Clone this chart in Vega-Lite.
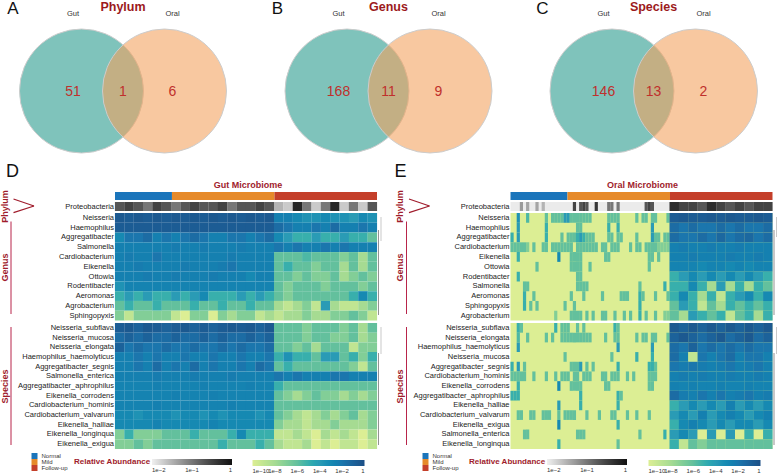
{"$schema":"https://vega.github.io/schema/vega-lite/v6.json","padding":0,"bounds":"flush","columns":2,"spacing":{"row":2,"column":133.5},
"config":{"view":{"stroke":null},"font":"Liberation Sans","range":{"heatmap":["#dcee94","#a6db92","#63c09d","#2a9bb5","#1b76ad","#1c4f86"]},"axisY":{"labelFont":"Liberation Sans","labelFontSize":7.5,"labelColor":"#222","ticks":false,"domain":false,"labelPadding":1.5,"titleFont":"Liberation Sans","titleFontSize":9,"titleFontWeight":"bold","titleColor":"#a01c2c","titleX":-106,"grid":false},"legend":{"labelOverlap":false,"labelFont":"Liberation Sans","labelFontSize":6,"labelColor":"#333"}},
"datasets":{
"venn":[{"panel":"A","set":"Gut","x":-33.5,"y":0},{"panel":"A","set":"Oral","x":49.5,"y":0},{"panel":"B","set":"Gut","x":232,"y":0},{"panel":"B","set":"Oral","x":315,"y":0},{"panel":"C","set":"Gut","x":101.5,"y":0},{"panel":"C","set":"Oral","x":185,"y":0}],
"groups":[{"g":"Normal","s":0,"e":20},{"g":"Mild","s":20,"e":56},{"g":"Follow-up","s":56,"e":92}],
"dP":[{"r":0,"c":0,"v":2e-1},{"r":0,"c":1,"v":3e-1},{"r":0,"c":2,"v":2e-1},{"r":0,"c":3,"v":1e-1},{"r":0,"c":4,"v":3e-1},{"r":0,"c":5,"v":2e-1},{"r":0,"c":6,"v":1e-1},{"r":0,"c":7,"v":2e-1},{"r":0,"c":8,"v":3e-1},{"r":0,"c":9,"v":2e-1},{"r":0,"c":10,"v":2e-1},{"r":0,"c":11,"v":3e-1},{"r":0,"c":12,"v":1e-1},{"r":0,"c":13,"v":2e-1},{"r":0,"c":14,"v":2e-1},{"r":0,"c":15,"v":3e-1},{"r":0,"c":16,"v":2e-1},{"r":0,"c":17,"v":3e-2},{"r":0,"c":18,"v":2e-2},{"r":0,"c":19,"v":6e-1},{"r":0,"c":20,"v":1e-1},{"r":0,"c":21,"v":2e-2},{"r":0,"c":22,"v":1e-1},{"r":0,"c":23,"v":6e-1},{"r":0,"c":24,"v":2e-2},{"r":0,"c":25,"v":1e-1},{"r":0,"c":26,"v":2e-2},{"r":0,"c":27,"v":2e-1}],
"dG":[{"r":0,"c":0,"v":3e-1},{"r":0,"c":1,"v":2e-1},{"r":0,"c":2,"v":3e-1},{"r":0,"c":3,"v":2e-1},{"r":0,"c":4,"v":3e-1},{"r":0,"c":5,"v":2e-1},{"r":0,"c":6,"v":3e-1},{"r":0,"c":7,"v":2e-1},{"r":0,"c":8,"v":3e-1},{"r":0,"c":9,"v":2e-1},{"r":0,"c":10,"v":3e-1},{"r":0,"c":11,"v":2e-1},{"r":0,"c":12,"v":3e-1},{"r":0,"c":13,"v":2e-1},{"r":0,"c":14,"v":3e-1},{"r":0,"c":15,"v":2e-1},{"r":0,"c":16,"v":3e-1},{"r":0,"c":17,"v":3e-3},{"r":0,"c":18,"v":3e-3},{"r":0,"c":19,"v":1e-3},{"r":0,"c":20,"v":3e-4},{"r":0,"c":21,"v":3e-4},{"r":0,"c":22,"v":1e-3},{"r":0,"c":23,"v":3e-4},{"r":0,"c":24,"v":3e-4},{"r":0,"c":25,"v":1e-4},{"r":0,"c":26,"v":1e-3},{"r":0,"c":27,"v":3e-4},
{"r":1,"c":0,"v":2e-1},{"r":1,"c":1,"v":2e-1},{"r":1,"c":2,"v":2e-1},{"r":1,"c":3,"v":2e-1},{"r":1,"c":4,"v":2e-1},{"r":1,"c":5,"v":2e-1},{"r":1,"c":6,"v":2e-1},{"r":1,"c":7,"v":2e-1},{"r":1,"c":8,"v":2e-1},{"r":1,"c":9,"v":2e-1},{"r":1,"c":10,"v":2e-1},{"r":1,"c":11,"v":2e-1},{"r":1,"c":12,"v":2e-1},{"r":1,"c":13,"v":2e-1},{"r":1,"c":14,"v":2e-1},{"r":1,"c":15,"v":2e-1},{"r":1,"c":16,"v":2e-1},{"r":1,"c":17,"v":3e-2},{"r":1,"c":18,"v":1e-2},{"r":1,"c":19,"v":3e-3},{"r":1,"c":20,"v":3e-3},{"r":1,"c":21,"v":1e-2},{"r":1,"c":22,"v":3e-3},{"r":1,"c":23,"v":3e-2},{"r":1,"c":24,"v":3e-3},{"r":1,"c":25,"v":3e-3},{"r":1,"c":26,"v":1e-2},{"r":1,"c":27,"v":3e-3},
{"r":2,"c":0,"v":1e-3},{"r":2,"c":1,"v":1e-2},{"r":2,"c":2,"v":1e-2},{"r":2,"c":3,"v":3e-2},{"r":2,"c":4,"v":3e-3},{"r":2,"c":5,"v":1e-2},{"r":2,"c":6,"v":3e-3},{"r":2,"c":7,"v":1e-2},{"r":2,"c":8,"v":3e-2},{"r":2,"c":9,"v":1e-2},{"r":2,"c":10,"v":3e-3},{"r":2,"c":11,"v":3e-3},{"r":2,"c":12,"v":1e-2},{"r":2,"c":13,"v":1e-2},{"r":2,"c":14,"v":3e-3},{"r":2,"c":15,"v":1e-2},{"r":2,"c":16,"v":3e-2},{"r":2,"c":17,"v":1e-3},{"r":2,"c":18,"v":1e-4},{"r":2,"c":19,"v":1e-5},{"r":2,"c":20,"v":1e-5},{"r":2,"c":21,"v":1e-4},{"r":2,"c":22,"v":1e-5},{"r":2,"c":23,"v":1e-5},{"r":2,"c":24,"v":1e-4},{"r":2,"c":25,"v":1e-5},{"r":2,"c":26,"v":1e-5},{"r":2,"c":27,"v":1e-6},
{"r":3,"c":0,"v":3e-3},{"r":3,"c":1,"v":3e-3},{"r":3,"c":2,"v":3e-3},{"r":3,"c":3,"v":3e-3},{"r":3,"c":4,"v":3e-3},{"r":3,"c":5,"v":3e-3},{"r":3,"c":6,"v":5e-3},{"r":3,"c":7,"v":3e-3},{"r":3,"c":8,"v":3e-3},{"r":3,"c":9,"v":5e-3},{"r":3,"c":10,"v":3e-3},{"r":3,"c":11,"v":3e-3},{"r":3,"c":12,"v":3e-3},{"r":3,"c":13,"v":5e-3},{"r":3,"c":14,"v":3e-3},{"r":3,"c":15,"v":3e-3},{"r":3,"c":16,"v":3e-3},{"r":3,"c":17,"v":1e-2},{"r":3,"c":18,"v":3e-3},{"r":3,"c":19,"v":1e-2},{"r":3,"c":20,"v":3e-3},{"r":3,"c":21,"v":3e-3},{"r":3,"c":22,"v":1e-2},{"r":3,"c":23,"v":3e-3},{"r":3,"c":24,"v":1e-2},{"r":3,"c":25,"v":3e-3},{"r":3,"c":26,"v":3e-3},{"r":3,"c":27,"v":3e-3},
{"r":4,"c":0,"v":3e-3},{"r":4,"c":1,"v":5e-3},{"r":4,"c":2,"v":3e-3},{"r":4,"c":3,"v":3e-3},{"r":4,"c":4,"v":1e-2},{"r":4,"c":5,"v":3e-3},{"r":4,"c":6,"v":3e-3},{"r":4,"c":7,"v":3e-3},{"r":4,"c":8,"v":3e-3},{"r":4,"c":9,"v":3e-3},{"r":4,"c":10,"v":3e-3},{"r":4,"c":11,"v":3e-3},{"r":4,"c":12,"v":5e-3},{"r":4,"c":13,"v":3e-3},{"r":4,"c":14,"v":3e-3},{"r":4,"c":15,"v":3e-3},{"r":4,"c":16,"v":3e-3},{"r":4,"c":17,"v":1e-6},{"r":4,"c":18,"v":1e-6},{"r":4,"c":19,"v":1e-6},{"r":4,"c":20,"v":3e-6},{"r":4,"c":21,"v":1e-6},{"r":4,"c":22,"v":1e-6},{"r":4,"c":23,"v":1e-6},{"r":4,"c":24,"v":1e-7},{"r":4,"c":25,"v":1e-6},{"r":4,"c":26,"v":1e-8},{"r":4,"c":27,"v":1e-6},
{"r":5,"c":0,"v":3e-3},{"r":5,"c":1,"v":3e-3},{"r":5,"c":2,"v":5e-3},{"r":5,"c":3,"v":3e-3},{"r":5,"c":4,"v":3e-3},{"r":5,"c":5,"v":3e-3},{"r":5,"c":6,"v":3e-3},{"r":5,"c":7,"v":5e-3},{"r":5,"c":8,"v":3e-3},{"r":5,"c":9,"v":3e-3},{"r":5,"c":10,"v":3e-3},{"r":5,"c":11,"v":5e-3},{"r":5,"c":12,"v":1e-2},{"r":5,"c":13,"v":3e-3},{"r":5,"c":14,"v":3e-3},{"r":5,"c":15,"v":3e-3},{"r":5,"c":16,"v":3e-3},{"r":5,"c":17,"v":1e-6},{"r":5,"c":18,"v":1e-5},{"r":5,"c":19,"v":1e-6},{"r":5,"c":20,"v":1e-6},{"r":5,"c":21,"v":1e-7},{"r":5,"c":22,"v":1e-6},{"r":5,"c":23,"v":1e-6},{"r":5,"c":24,"v":1e-8},{"r":5,"c":25,"v":1e-6},{"r":5,"c":26,"v":1e-8},{"r":5,"c":27,"v":1e-6},
{"r":6,"c":0,"v":3e-3},{"r":6,"c":1,"v":3e-3},{"r":6,"c":2,"v":3e-3},{"r":6,"c":3,"v":5e-3},{"r":6,"c":4,"v":3e-3},{"r":6,"c":5,"v":3e-3},{"r":6,"c":6,"v":5e-3},{"r":6,"c":7,"v":3e-3},{"r":6,"c":8,"v":3e-3},{"r":6,"c":9,"v":3e-3},{"r":6,"c":10,"v":5e-3},{"r":6,"c":11,"v":3e-3},{"r":6,"c":12,"v":3e-3},{"r":6,"c":13,"v":3e-3},{"r":6,"c":14,"v":1e-3},{"r":6,"c":15,"v":3e-3},{"r":6,"c":16,"v":3e-3},{"r":6,"c":17,"v":1e-6},{"r":6,"c":18,"v":1e-6},{"r":6,"c":19,"v":1e-7},{"r":6,"c":20,"v":1e-6},{"r":6,"c":21,"v":1e-7},{"r":6,"c":22,"v":1e-7},{"r":6,"c":23,"v":1e-6},{"r":6,"c":24,"v":1e-8},{"r":6,"c":25,"v":1e-7},{"r":6,"c":26,"v":1e-6},{"r":6,"c":27,"v":1e-7},
{"r":7,"c":0,"v":3e-4},{"r":7,"c":1,"v":2e-3},{"r":7,"c":2,"v":2e-3},{"r":7,"c":3,"v":2e-3},{"r":7,"c":4,"v":2e-3},{"r":7,"c":5,"v":2e-3},{"r":7,"c":6,"v":2e-3},{"r":7,"c":7,"v":2e-3},{"r":7,"c":8,"v":2e-3},{"r":7,"c":9,"v":2e-3},{"r":7,"c":10,"v":2e-3},{"r":7,"c":11,"v":2e-3},{"r":7,"c":12,"v":2e-3},{"r":7,"c":13,"v":2e-3},{"r":7,"c":14,"v":2e-3},{"r":7,"c":15,"v":2e-3},{"r":7,"c":16,"v":2e-3},{"r":7,"c":17,"v":1e-6},{"r":7,"c":18,"v":1e-7},{"r":7,"c":19,"v":1e-6},{"r":7,"c":20,"v":1e-6},{"r":7,"c":21,"v":1e-6},{"r":7,"c":22,"v":1e-7},{"r":7,"c":23,"v":1e-6},{"r":7,"c":24,"v":1e-6},{"r":7,"c":25,"v":1e-6},{"r":7,"c":26,"v":1e-7},{"r":7,"c":27,"v":1e-6},
{"r":8,"c":0,"v":1e-5},{"r":8,"c":1,"v":1e-4},{"r":8,"c":2,"v":1e-5},{"r":8,"c":3,"v":1e-4},{"r":8,"c":4,"v":1e-5},{"r":8,"c":5,"v":1e-5},{"r":8,"c":6,"v":1e-4},{"r":8,"c":7,"v":1e-5},{"r":8,"c":8,"v":1e-4},{"r":8,"c":9,"v":1e-3},{"r":8,"c":10,"v":1e-5},{"r":8,"c":11,"v":1e-5},{"r":8,"c":12,"v":1e-5},{"r":8,"c":13,"v":1e-4},{"r":8,"c":14,"v":1e-5},{"r":8,"c":15,"v":1e-4},{"r":8,"c":16,"v":1e-5},{"r":8,"c":17,"v":1e-6},{"r":8,"c":18,"v":1e-7},{"r":8,"c":19,"v":1e-6},{"r":8,"c":20,"v":1e-6},{"r":8,"c":21,"v":1e-6},{"r":8,"c":22,"v":1e-6},{"r":8,"c":23,"v":1e-6},{"r":8,"c":24,"v":1e-6},{"r":8,"c":25,"v":1e-5},{"r":8,"c":26,"v":1e-3},{"r":8,"c":27,"v":1e-5},
{"r":9,"c":0,"v":1e-6},{"r":9,"c":1,"v":1e-5},{"r":9,"c":2,"v":1e-6},{"r":9,"c":3,"v":1e-6},{"r":9,"c":4,"v":1e-5},{"r":9,"c":5,"v":1e-6},{"r":9,"c":6,"v":1e-6},{"r":9,"c":7,"v":1e-6},{"r":9,"c":8,"v":1e-5},{"r":9,"c":9,"v":1e-6},{"r":9,"c":10,"v":1e-6},{"r":9,"c":11,"v":1e-5},{"r":9,"c":12,"v":1e-6},{"r":9,"c":13,"v":1e-6},{"r":9,"c":14,"v":1e-5},{"r":9,"c":15,"v":1e-6},{"r":9,"c":16,"v":1e-6},{"r":9,"c":17,"v":1e-8},{"r":9,"c":18,"v":1e-9},{"r":9,"c":19,"v":1e-8},{"r":9,"c":20,"v":1e-7},{"r":9,"c":21,"v":1e-9},{"r":9,"c":22,"v":1e-4},{"r":9,"c":23,"v":1e-8},{"r":9,"c":24,"v":1e-9},{"r":9,"c":25,"v":1e-9},{"r":9,"c":26,"v":1e-8},{"r":9,"c":27,"v":1e-7},
{"r":10,"c":0,"v":1e-7},{"r":10,"c":1,"v":1e-9},{"r":10,"c":2,"v":1e-7},{"r":10,"c":3,"v":1e-7},{"r":10,"c":4,"v":1e-7},{"r":10,"c":5,"v":1e-7},{"r":10,"c":6,"v":1e-9},{"r":10,"c":7,"v":1e-10},{"r":10,"c":8,"v":1e-7},{"r":10,"c":9,"v":1e-7},{"r":10,"c":10,"v":1e-10},{"r":10,"c":11,"v":1e-7},{"r":10,"c":12,"v":1e-8},{"r":10,"c":13,"v":1e-7},{"r":10,"c":14,"v":1e-7},{"r":10,"c":15,"v":1e-9},{"r":10,"c":16,"v":1e-8},{"r":10,"c":17,"v":1e-9},{"r":10,"c":18,"v":1e-8},{"r":10,"c":19,"v":1e-8},{"r":10,"c":20,"v":1e-7},{"r":10,"c":21,"v":1e-8},{"r":10,"c":22,"v":1e-8},{"r":10,"c":23,"v":1e-7},{"r":10,"c":24,"v":1e-7},{"r":10,"c":25,"v":1e-6},{"r":10,"c":26,"v":1e-7},{"r":10,"c":27,"v":1e-9}],
"dS":[{"r":0,"c":0,"v":2e-1},{"r":0,"c":1,"v":3e-1},{"r":0,"c":2,"v":1e-1},{"r":0,"c":3,"v":3e-1},{"r":0,"c":4,"v":2e-1},{"r":0,"c":5,"v":1e-1},{"r":0,"c":6,"v":2e-1},{"r":0,"c":7,"v":3e-1},{"r":0,"c":8,"v":1e-1},{"r":0,"c":9,"v":2e-1},{"r":0,"c":10,"v":1e-1},{"r":0,"c":11,"v":2e-1},{"r":0,"c":12,"v":3e-1},{"r":0,"c":13,"v":2e-1},{"r":0,"c":14,"v":3e-1},{"r":0,"c":15,"v":1e-1},{"r":0,"c":16,"v":3e-1},{"r":0,"c":17,"v":1e-6},{"r":0,"c":18,"v":1e-6},{"r":0,"c":19,"v":1e-6},{"r":0,"c":20,"v":1e-7},{"r":0,"c":21,"v":1e-6},{"r":0,"c":22,"v":1e-6},{"r":0,"c":23,"v":1e-6},{"r":0,"c":24,"v":1e-7},{"r":0,"c":25,"v":1e-6},{"r":0,"c":26,"v":1e-8},{"r":0,"c":27,"v":1e-6},
{"r":1,"c":0,"v":3e-2},{"r":1,"c":1,"v":1e-1},{"r":1,"c":2,"v":3e-2},{"r":1,"c":3,"v":1e-1},{"r":1,"c":4,"v":3e-2},{"r":1,"c":5,"v":3e-2},{"r":1,"c":6,"v":1e-1},{"r":1,"c":7,"v":3e-2},{"r":1,"c":8,"v":3e-2},{"r":1,"c":9,"v":1e-1},{"r":1,"c":10,"v":3e-2},{"r":1,"c":11,"v":1e-1},{"r":1,"c":12,"v":3e-2},{"r":1,"c":13,"v":3e-2},{"r":1,"c":14,"v":1e-1},{"r":1,"c":15,"v":3e-2},{"r":1,"c":16,"v":1e-1},{"r":1,"c":17,"v":1e-6},{"r":1,"c":18,"v":1e-6},{"r":1,"c":19,"v":1e-6},{"r":1,"c":20,"v":1e-7},{"r":1,"c":21,"v":1e-6},{"r":1,"c":22,"v":1e-6},{"r":1,"c":23,"v":1e-7},{"r":1,"c":24,"v":1e-7},{"r":1,"c":25,"v":1e-6},{"r":1,"c":26,"v":1e-8},{"r":1,"c":27,"v":1e-7},
{"r":2,"c":0,"v":1e-1},{"r":2,"c":1,"v":1e-2},{"r":2,"c":2,"v":3e-2},{"r":2,"c":3,"v":1e-2},{"r":2,"c":4,"v":1e-2},{"r":2,"c":5,"v":3e-2},{"r":2,"c":6,"v":1e-2},{"r":2,"c":7,"v":1e-2},{"r":2,"c":8,"v":3e-2},{"r":2,"c":9,"v":1e-2},{"r":2,"c":10,"v":1e-2},{"r":2,"c":11,"v":3e-2},{"r":2,"c":12,"v":1e-2},{"r":2,"c":13,"v":3e-2},{"r":2,"c":14,"v":1e-2},{"r":2,"c":15,"v":1e-2},{"r":2,"c":16,"v":3e-2},{"r":2,"c":17,"v":1e-6},{"r":2,"c":18,"v":1e-6},{"r":2,"c":19,"v":1e-7},{"r":2,"c":20,"v":1e-6},{"r":2,"c":21,"v":1e-8},{"r":2,"c":22,"v":1e-6},{"r":2,"c":23,"v":1e-6},{"r":2,"c":24,"v":1e-6},{"r":2,"c":25,"v":1e-9},{"r":2,"c":26,"v":1e-7},{"r":2,"c":27,"v":1e-7},
{"r":3,"c":0,"v":3e-3},{"r":3,"c":1,"v":3e-3},{"r":3,"c":2,"v":1e-2},{"r":3,"c":3,"v":3e-3},{"r":3,"c":4,"v":1e-2},{"r":3,"c":5,"v":3e-3},{"r":3,"c":6,"v":3e-3},{"r":3,"c":7,"v":1e-2},{"r":3,"c":8,"v":3e-3},{"r":3,"c":9,"v":3e-3},{"r":3,"c":10,"v":1e-2},{"r":3,"c":11,"v":3e-3},{"r":3,"c":12,"v":3e-3},{"r":3,"c":13,"v":1e-2},{"r":3,"c":14,"v":3e-3},{"r":3,"c":15,"v":3e-3},{"r":3,"c":16,"v":1e-2},{"r":3,"c":17,"v":1e-5},{"r":3,"c":18,"v":3e-4},{"r":3,"c":19,"v":1e-5},{"r":3,"c":20,"v":1e-5},{"r":3,"c":21,"v":1e-6},{"r":3,"c":22,"v":1e-4},{"r":3,"c":23,"v":1e-4},{"r":3,"c":24,"v":1e-6},{"r":3,"c":25,"v":1e-5},{"r":3,"c":26,"v":1e-7},{"r":3,"c":27,"v":1e-5},
{"r":4,"c":0,"v":3e-3},{"r":4,"c":1,"v":3e-3},{"r":4,"c":2,"v":1e-2},{"r":4,"c":3,"v":3e-3},{"r":4,"c":4,"v":3e-2},{"r":4,"c":5,"v":3e-3},{"r":4,"c":6,"v":1e-2},{"r":4,"c":7,"v":3e-3},{"r":4,"c":8,"v":3e-2},{"r":4,"c":9,"v":3e-3},{"r":4,"c":10,"v":1e-2},{"r":4,"c":11,"v":3e-3},{"r":4,"c":12,"v":3e-3},{"r":4,"c":13,"v":1e-2},{"r":4,"c":14,"v":3e-3},{"r":4,"c":15,"v":3e-2},{"r":4,"c":16,"v":1e-2},{"r":4,"c":17,"v":1e-6},{"r":4,"c":18,"v":1e-5},{"r":4,"c":19,"v":1e-6},{"r":4,"c":20,"v":1e-6},{"r":4,"c":21,"v":1e-6},{"r":4,"c":22,"v":1e-6},{"r":4,"c":23,"v":1e-6},{"r":4,"c":24,"v":1e-6},{"r":4,"c":25,"v":1e-7},{"r":4,"c":26,"v":1e-9},{"r":4,"c":27,"v":1e-6},
{"r":5,"c":0,"v":3e-3},{"r":5,"c":1,"v":3e-3},{"r":5,"c":2,"v":3e-3},{"r":5,"c":3,"v":3e-3},{"r":5,"c":4,"v":5e-3},{"r":5,"c":5,"v":3e-3},{"r":5,"c":6,"v":3e-3},{"r":5,"c":7,"v":3e-3},{"r":5,"c":8,"v":5e-3},{"r":5,"c":9,"v":3e-3},{"r":5,"c":10,"v":3e-3},{"r":5,"c":11,"v":3e-3},{"r":5,"c":12,"v":5e-3},{"r":5,"c":13,"v":3e-3},{"r":5,"c":14,"v":3e-3},{"r":5,"c":15,"v":3e-3},{"r":5,"c":16,"v":3e-3},{"r":5,"c":17,"v":1e-2},{"r":5,"c":18,"v":3e-3},{"r":5,"c":19,"v":1e-2},{"r":5,"c":20,"v":3e-3},{"r":5,"c":21,"v":3e-3},{"r":5,"c":22,"v":3e-3},{"r":5,"c":23,"v":1e-2},{"r":5,"c":24,"v":1e-2},{"r":5,"c":25,"v":3e-3},{"r":5,"c":26,"v":3e-3},{"r":5,"c":27,"v":3e-3},
{"r":6,"c":0,"v":2e-3},{"r":6,"c":1,"v":2e-3},{"r":6,"c":2,"v":2e-3},{"r":6,"c":3,"v":2e-3},{"r":6,"c":4,"v":3e-3},{"r":6,"c":5,"v":2e-3},{"r":6,"c":6,"v":2e-3},{"r":6,"c":7,"v":2e-3},{"r":6,"c":8,"v":2e-3},{"r":6,"c":9,"v":3e-3},{"r":6,"c":10,"v":2e-3},{"r":6,"c":11,"v":2e-3},{"r":6,"c":12,"v":2e-3},{"r":6,"c":13,"v":2e-3},{"r":6,"c":14,"v":3e-3},{"r":6,"c":15,"v":2e-3},{"r":6,"c":16,"v":2e-3},{"r":6,"c":17,"v":1e-5},{"r":6,"c":18,"v":1e-6},{"r":6,"c":19,"v":1e-6},{"r":6,"c":20,"v":1e-6},{"r":6,"c":21,"v":1e-6},{"r":6,"c":22,"v":1e-6},{"r":6,"c":23,"v":1e-6},{"r":6,"c":24,"v":1e-6},{"r":6,"c":25,"v":1e-6},{"r":6,"c":26,"v":1e-6},{"r":6,"c":27,"v":1e-6},
{"r":7,"c":0,"v":2e-3},{"r":7,"c":1,"v":2e-3},{"r":7,"c":2,"v":2e-3},{"r":7,"c":3,"v":2e-3},{"r":7,"c":4,"v":2e-3},{"r":7,"c":5,"v":2e-3},{"r":7,"c":6,"v":3e-3},{"r":7,"c":7,"v":2e-3},{"r":7,"c":8,"v":2e-3},{"r":7,"c":9,"v":2e-3},{"r":7,"c":10,"v":3e-3},{"r":7,"c":11,"v":2e-3},{"r":7,"c":12,"v":2e-3},{"r":7,"c":13,"v":2e-3},{"r":7,"c":14,"v":2e-3},{"r":7,"c":15,"v":2e-3},{"r":7,"c":16,"v":2e-3},{"r":7,"c":17,"v":1e-6},{"r":7,"c":18,"v":1e-7},{"r":7,"c":19,"v":1e-8},{"r":7,"c":20,"v":1e-7},{"r":7,"c":21,"v":1e-6},{"r":7,"c":22,"v":1e-7},{"r":7,"c":23,"v":1e-7},{"r":7,"c":24,"v":1e-8},{"r":7,"c":25,"v":1e-7},{"r":7,"c":26,"v":1e-8},{"r":7,"c":27,"v":1e-7},
{"r":8,"c":0,"v":2e-3},{"r":8,"c":1,"v":2e-3},{"r":8,"c":2,"v":2e-3},{"r":8,"c":3,"v":2e-3},{"r":8,"c":4,"v":3e-3},{"r":8,"c":5,"v":2e-3},{"r":8,"c":6,"v":2e-3},{"r":8,"c":7,"v":2e-3},{"r":8,"c":8,"v":2e-3},{"r":8,"c":9,"v":2e-3},{"r":8,"c":10,"v":2e-3},{"r":8,"c":11,"v":2e-3},{"r":8,"c":12,"v":3e-3},{"r":8,"c":13,"v":2e-3},{"r":8,"c":14,"v":2e-3},{"r":8,"c":15,"v":2e-3},{"r":8,"c":16,"v":2e-3},{"r":8,"c":17,"v":1e-6},{"r":8,"c":18,"v":1e-6},{"r":8,"c":19,"v":1e-6},{"r":8,"c":20,"v":1e-6},{"r":8,"c":21,"v":1e-6},{"r":8,"c":22,"v":1e-6},{"r":8,"c":23,"v":1e-6},{"r":8,"c":24,"v":1e-6},{"r":8,"c":25,"v":1e-6},{"r":8,"c":26,"v":1e-6},{"r":8,"c":27,"v":1e-6},
{"r":9,"c":0,"v":1e-3},{"r":9,"c":1,"v":1e-3},{"r":9,"c":2,"v":3e-4},{"r":9,"c":3,"v":1e-3},{"r":9,"c":4,"v":1e-3},{"r":9,"c":5,"v":1e-3},{"r":9,"c":6,"v":3e-4},{"r":9,"c":7,"v":1e-3},{"r":9,"c":8,"v":1e-3},{"r":9,"c":9,"v":3e-4},{"r":9,"c":10,"v":1e-3},{"r":9,"c":11,"v":3e-4},{"r":9,"c":12,"v":1e-3},{"r":9,"c":13,"v":1e-3},{"r":9,"c":14,"v":1e-3},{"r":9,"c":15,"v":3e-4},{"r":9,"c":16,"v":1e-3},{"r":9,"c":17,"v":1e-6},{"r":9,"c":18,"v":1e-7},{"r":9,"c":19,"v":1e-8},{"r":9,"c":20,"v":1e-9},{"r":9,"c":21,"v":1e-8},{"r":9,"c":22,"v":1e-7},{"r":9,"c":23,"v":1e-8},{"r":9,"c":24,"v":1e-7},{"r":9,"c":25,"v":1e-6},{"r":9,"c":26,"v":1e-8},{"r":9,"c":27,"v":1e-7},
{"r":10,"c":0,"v":1e-3},{"r":10,"c":1,"v":1e-3},{"r":10,"c":2,"v":1e-3},{"r":10,"c":3,"v":1e-3},{"r":10,"c":4,"v":2e-3},{"r":10,"c":5,"v":1e-3},{"r":10,"c":6,"v":1e-3},{"r":10,"c":7,"v":1e-3},{"r":10,"c":8,"v":1e-3},{"r":10,"c":9,"v":1e-3},{"r":10,"c":10,"v":2e-3},{"r":10,"c":11,"v":1e-3},{"r":10,"c":12,"v":1e-3},{"r":10,"c":13,"v":1e-3},{"r":10,"c":14,"v":1e-3},{"r":10,"c":15,"v":1e-3},{"r":10,"c":16,"v":1e-3},{"r":10,"c":17,"v":1e-7},{"r":10,"c":18,"v":1e-8},{"r":10,"c":19,"v":1e-8},{"r":10,"c":20,"v":1e-9},{"r":10,"c":21,"v":1e-8},{"r":10,"c":22,"v":1e-8},{"r":10,"c":23,"v":1e-7},{"r":10,"c":24,"v":1e-8},{"r":10,"c":25,"v":1e-8},{"r":10,"c":26,"v":1e-8},{"r":10,"c":27,"v":1e-7},
{"r":11,"c":0,"v":1e-7},{"r":11,"c":1,"v":1e-5},{"r":11,"c":2,"v":1e-7},{"r":11,"c":3,"v":1e-7},{"r":11,"c":4,"v":1e-7},{"r":11,"c":5,"v":1e-6},{"r":11,"c":6,"v":1e-6},{"r":11,"c":7,"v":1e-6},{"r":11,"c":8,"v":1e-5},{"r":11,"c":9,"v":1e-6},{"r":11,"c":10,"v":1e-6},{"r":11,"c":11,"v":1e-6},{"r":11,"c":12,"v":1e-5},{"r":11,"c":13,"v":1e-3},{"r":11,"c":14,"v":1e-5},{"r":11,"c":15,"v":1e-5},{"r":11,"c":16,"v":1e-5},{"r":11,"c":17,"v":1e-9},{"r":11,"c":18,"v":1e-9},{"r":11,"c":19,"v":1e-8},{"r":11,"c":20,"v":1e-9},{"r":11,"c":21,"v":1e-10},{"r":11,"c":22,"v":1e-8},{"r":11,"c":23,"v":1e-9},{"r":11,"c":24,"v":1e-8},{"r":11,"c":25,"v":1e-9},{"r":11,"c":26,"v":1e-10},{"r":11,"c":27,"v":1e-8},
{"r":12,"c":0,"v":1e-7},{"r":12,"c":1,"v":1e-7},{"r":12,"c":2,"v":1e-6},{"r":12,"c":3,"v":1e-7},{"r":12,"c":4,"v":1e-6},{"r":12,"c":5,"v":1e-6},{"r":12,"c":6,"v":1e-6},{"r":12,"c":7,"v":1e-6},{"r":12,"c":8,"v":1e-6},{"r":12,"c":9,"v":1e-6},{"r":12,"c":10,"v":1e-6},{"r":12,"c":11,"v":1e-5},{"r":12,"c":12,"v":1e-6},{"r":12,"c":13,"v":1e-6},{"r":12,"c":14,"v":1e-6},{"r":12,"c":15,"v":1e-5},{"r":12,"c":16,"v":1e-6},{"r":12,"c":17,"v":1e-8},{"r":12,"c":18,"v":1e-9},{"r":12,"c":19,"v":1e-9},{"r":12,"c":20,"v":1e-8},{"r":12,"c":21,"v":1e-10},{"r":12,"c":22,"v":1e-9},{"r":12,"c":23,"v":1e-10},{"r":12,"c":24,"v":1e-9},{"r":12,"c":25,"v":1e-9},{"r":12,"c":26,"v":1e-10},{"r":12,"c":27,"v":1e-9}],
"eP":[{"r":0,"c":3,"v":5e-2},{"r":0,"c":5,"v":4e-2},{"r":0,"c":8,"v":4e-2},{"r":0,"c":10,"v":3e-2},{"r":0,"c":20,"v":3e-1},{"r":0,"c":22,"v":2e-1},{"r":0,"c":23,"v":3e-1},{"r":0,"c":24,"v":2e-1},{"r":0,"c":27,"v":4e-1},{"r":0,"c":31,"v":1e-1},{"r":0,"c":32,"v":1e-1},{"r":0,"c":34,"v":1e-1},{"r":0,"c":43,"v":2e-1},{"r":0,"c":44,"v":3e-1},{"r":0,"c":45,"v":2e-1},{"r":0,"c":52,"v":5e-1},{"r":0,"c":55,"v":3e-1},{"r":0,"c":58,"v":3e-1},{"r":0,"c":61,"v":2e-1},{"r":0,"c":64,"v":5e-1},{"r":0,"c":67,"v":3e-1},{"r":0,"c":70,"v":2e-1},{"r":0,"c":73,"v":3e-1},{"r":0,"c":76,"v":2e-1},{"r":0,"c":79,"v":3e-1},{"r":0,"c":82,"v":3e-1}],
"eG":[{"r":0,"c":2,"v":3e-4},{"r":0,"c":5,"v":3e-6},{"r":0,"c":11,"v":1e-6},{"r":0,"c":13,"v":1e-6},{"r":0,"c":14,"v":1e-6},{"r":0,"c":15,"v":1e-6},{"r":0,"c":16,"v":1e-6},{"r":0,"c":17,"v":1e-4},{"r":0,"c":18,"v":1e-4},{"r":0,"c":19,"v":1e-6},{"r":0,"c":20,"v":1e-6},{"r":0,"c":21,"v":1e-6},{"r":0,"c":22,"v":1e-6},{"r":0,"c":23,"v":1e-6},{"r":0,"c":24,"v":1e-6},{"r":0,"c":25,"v":1e-6},{"r":0,"c":31,"v":1e-6},{"r":0,"c":32,"v":1e-6},{"r":0,"c":33,"v":1e-6},{"r":0,"c":34,"v":1e-6},{"r":0,"c":40,"v":1e-6},{"r":0,"c":42,"v":1e-6},{"r":0,"c":43,"v":1e-6},{"r":0,"c":45,"v":1e-6},{"r":0,"c":46,"v":1e-6},{"r":0,"c":50,"v":1e-6},
{"r":1,"c":2,"v":1e-4},{"r":1,"c":11,"v":1e-5},{"r":1,"c":21,"v":1e-6},{"r":1,"c":22,"v":1e-6},{"r":1,"c":31,"v":1e-5},{"r":1,"c":34,"v":1e-5},{"r":1,"c":45,"v":1e-4},
{"r":2,"c":0,"v":1e-5},{"r":2,"c":2,"v":1e-4},{"r":2,"c":11,"v":1e-5},{"r":2,"c":16,"v":1e-6},{"r":2,"c":18,"v":1e-6},{"r":2,"c":19,"v":1e-6},{"r":2,"c":20,"v":1e-6},{"r":2,"c":21,"v":1e-5},{"r":2,"c":22,"v":1e-4},{"r":2,"c":23,"v":1e-5},{"r":2,"c":24,"v":1e-6},{"r":2,"c":25,"v":1e-6},{"r":2,"c":26,"v":1e-6},{"r":2,"c":31,"v":1e-6},{"r":2,"c":32,"v":1e-6},{"r":2,"c":34,"v":1e-6},{"r":2,"c":35,"v":1e-6},{"r":2,"c":40,"v":1e-6},{"r":2,"c":45,"v":1e-4},{"r":2,"c":46,"v":1e-6},{"r":2,"c":47,"v":1e-6},{"r":2,"c":49,"v":1e-6},{"r":2,"c":50,"v":1e-6},
{"r":3,"c":0,"v":1e-6},{"r":3,"c":1,"v":1e-6},{"r":3,"c":2,"v":1e-6},{"r":3,"c":3,"v":1e-6},{"r":3,"c":4,"v":1e-6},{"r":3,"c":5,"v":1e-7},{"r":3,"c":7,"v":1e-6},{"r":3,"c":10,"v":1e-6},{"r":3,"c":11,"v":1e-6},{"r":3,"c":13,"v":1e-6},{"r":3,"c":14,"v":1e-6},{"r":3,"c":15,"v":1e-6},{"r":3,"c":16,"v":1e-6},{"r":3,"c":17,"v":1e-6},{"r":3,"c":18,"v":1e-6},{"r":3,"c":19,"v":1e-6},{"r":3,"c":21,"v":1e-6},{"r":3,"c":22,"v":1e-6},{"r":3,"c":23,"v":1e-6},{"r":3,"c":24,"v":1e-6},{"r":3,"c":25,"v":1e-6},{"r":3,"c":26,"v":1e-6},{"r":3,"c":27,"v":1e-6},{"r":3,"c":29,"v":1e-6},{"r":3,"c":30,"v":1e-6},{"r":3,"c":32,"v":1e-6},{"r":3,"c":33,"v":1e-6},{"r":3,"c":34,"v":1e-6},{"r":3,"c":38,"v":1e-6},{"r":3,"c":40,"v":1e-6},{"r":3,"c":41,"v":1e-6},{"r":3,"c":43,"v":1e-6},{"r":3,"c":44,"v":1e-6},{"r":3,"c":45,"v":1e-6},{"r":3,"c":46,"v":1e-6},{"r":3,"c":47,"v":1e-7},{"r":3,"c":48,"v":1e-7},{"r":3,"c":49,"v":1e-7},{"r":3,"c":50,"v":1e-7},
{"r":4,"c":2,"v":1e-5},{"r":4,"c":15,"v":1e-3},{"r":4,"c":19,"v":1e-6},{"r":4,"c":20,"v":1e-6},{"r":4,"c":21,"v":1e-6},{"r":4,"c":22,"v":1e-6},{"r":4,"c":30,"v":1e-6},{"r":4,"c":31,"v":1e-6},{"r":4,"c":44,"v":1e-6},{"r":4,"c":45,"v":1e-6},{"r":4,"c":47,"v":1e-6},
{"r":5,"c":8,"v":1e-6},{"r":5,"c":19,"v":1e-6},{"r":5,"c":20,"v":1e-6},{"r":5,"c":21,"v":1e-6},{"r":5,"c":22,"v":1e-6},{"r":5,"c":25,"v":1e-6},{"r":5,"c":44,"v":1e-6},
{"r":6,"c":2,"v":1e-5},{"r":6,"c":21,"v":1e-6},{"r":6,"c":22,"v":1e-6},
{"r":7,"c":4,"v":1e-6},{"r":7,"c":5,"v":1e-6},{"r":7,"c":21,"v":1e-6},{"r":7,"c":22,"v":1e-6},{"r":7,"c":23,"v":1e-6},{"r":7,"c":24,"v":1e-6},{"r":7,"c":41,"v":1e-6},{"r":7,"c":49,"v":1e-5},
{"r":8,"c":4,"v":1e-5},{"r":8,"c":7,"v":1e-6},{"r":8,"c":19,"v":1e-6},{"r":8,"c":23,"v":1e-6},{"r":8,"c":29,"v":1e-6},{"r":8,"c":35,"v":1e-6},{"r":8,"c":36,"v":1e-6},{"r":8,"c":37,"v":1e-6},{"r":8,"c":41,"v":1e-5},{"r":8,"c":42,"v":1e-6},{"r":8,"c":46,"v":1e-6},{"r":8,"c":50,"v":1e-6},
{"r":9,"c":4,"v":1e-5},{"r":9,"c":6,"v":1e-6},{"r":9,"c":8,"v":1e-6},{"r":9,"c":17,"v":1e-6},{"r":9,"c":20,"v":1e-6},{"r":9,"c":41,"v":1e-5},
{"r":10,"c":14,"v":1e-7},{"r":10,"c":19,"v":1e-6},{"r":10,"c":20,"v":1e-6},{"r":10,"c":21,"v":1e-6},{"r":10,"c":22,"v":1e-6},{"r":10,"c":24,"v":1e-6},{"r":10,"c":26,"v":1e-6},{"r":10,"c":29,"v":1e-6},{"r":10,"c":30,"v":1e-6},{"r":10,"c":33,"v":1e-6},{"r":10,"c":36,"v":1e-6},{"r":10,"c":38,"v":1e-6},{"r":10,"c":41,"v":1e-5},{"r":10,"c":43,"v":1e-6},{"r":10,"c":46,"v":1e-6},{"r":10,"c":49,"v":1e-7},{"r":10,"c":50,"v":1e-7},
{"r":0,"c":52,"v":2e-1},{"r":0,"c":55,"v":3e-1},{"r":0,"c":58,"v":2e-1},{"r":0,"c":61,"v":2e-1},{"r":0,"c":64,"v":3e-1},{"r":0,"c":67,"v":2e-1},{"r":0,"c":70,"v":3e-1},{"r":0,"c":73,"v":2e-1},{"r":0,"c":76,"v":2e-1},{"r":0,"c":79,"v":3e-1},{"r":0,"c":82,"v":2e-1},
{"r":1,"c":52,"v":3e-2},{"r":1,"c":55,"v":1e-2},{"r":1,"c":58,"v":3e-2},{"r":1,"c":61,"v":1e-2},{"r":1,"c":64,"v":1e-2},{"r":1,"c":67,"v":3e-2},{"r":1,"c":70,"v":1e-2},{"r":1,"c":73,"v":3e-2},{"r":1,"c":76,"v":1e-2},{"r":1,"c":79,"v":1e-2},{"r":1,"c":82,"v":3e-2},
{"r":2,"c":52,"v":3e-2},{"r":2,"c":55,"v":1e-2},{"r":2,"c":58,"v":1e-2},{"r":2,"c":61,"v":3e-2},{"r":2,"c":64,"v":1e-2},{"r":2,"c":67,"v":5e-2},{"r":2,"c":70,"v":1e-2},{"r":2,"c":73,"v":3e-2},{"r":2,"c":76,"v":5e-2},{"r":2,"c":79,"v":1e-2},{"r":2,"c":82,"v":3e-2},
{"r":3,"c":52,"v":3e-3},{"r":3,"c":55,"v":5e-3},{"r":3,"c":58,"v":3e-3},{"r":3,"c":61,"v":3e-3},{"r":3,"c":64,"v":5e-3},{"r":3,"c":67,"v":3e-3},{"r":3,"c":70,"v":3e-3},{"r":3,"c":73,"v":5e-3},{"r":3,"c":76,"v":3e-3},{"r":3,"c":79,"v":3e-3},{"r":3,"c":82,"v":3e-3},
{"r":4,"c":52,"v":3e-3},{"r":4,"c":55,"v":3e-3},{"r":4,"c":58,"v":5e-3},{"r":4,"c":61,"v":3e-3},{"r":4,"c":64,"v":3e-3},{"r":4,"c":67,"v":3e-3},{"r":4,"c":70,"v":5e-3},{"r":4,"c":73,"v":3e-3},{"r":4,"c":76,"v":3e-3},{"r":4,"c":79,"v":5e-3},{"r":4,"c":82,"v":3e-3},
{"r":5,"c":52,"v":2e-3},{"r":5,"c":55,"v":2e-3},{"r":5,"c":58,"v":2e-3},{"r":5,"c":61,"v":1e-3},{"r":5,"c":64,"v":2e-3},{"r":5,"c":67,"v":2e-3},{"r":5,"c":70,"v":1e-3},{"r":5,"c":73,"v":2e-3},{"r":5,"c":76,"v":1e-3},{"r":5,"c":79,"v":2e-3},{"r":5,"c":82,"v":2e-3},
{"r":6,"c":52,"v":1e-5},{"r":6,"c":55,"v":1e-4},{"r":6,"c":58,"v":1e-3},{"r":6,"c":61,"v":1e-4},{"r":6,"c":64,"v":1e-3},{"r":6,"c":67,"v":1e-4},{"r":6,"c":70,"v":1e-3},{"r":6,"c":73,"v":1e-4},{"r":6,"c":76,"v":1e-3},{"r":6,"c":79,"v":1e-4},{"r":6,"c":82,"v":1e-5},
{"r":7,"c":52,"v":1e-5},{"r":7,"c":55,"v":1e-5},{"r":7,"c":58,"v":1e-3},{"r":7,"c":61,"v":1e-5},{"r":7,"c":64,"v":1e-8},{"r":7,"c":67,"v":1e-4},{"r":7,"c":70,"v":1e-8},{"r":7,"c":73,"v":1e-5},{"r":7,"c":76,"v":1e-8},{"r":7,"c":79,"v":1e-5},{"r":7,"c":82,"v":1e-6},
{"r":8,"c":52,"v":1e-5},{"r":8,"c":55,"v":1e-3},{"r":8,"c":58,"v":1e-5},{"r":8,"c":61,"v":1e-8},{"r":8,"c":64,"v":1e-5},{"r":8,"c":67,"v":1e-9},{"r":8,"c":70,"v":1e-5},{"r":8,"c":73,"v":1e-4},{"r":8,"c":76,"v":1e-3},{"r":8,"c":79,"v":1e-5},{"r":8,"c":82,"v":1e-3},
{"r":9,"c":52,"v":1e-6},{"r":9,"c":55,"v":1e-4},{"r":9,"c":58,"v":1e-5},{"r":9,"c":61,"v":1e-9},{"r":9,"c":64,"v":1e-6},{"r":9,"c":67,"v":1e-8},{"r":9,"c":70,"v":1e-5},{"r":9,"c":73,"v":1e-6},{"r":9,"c":76,"v":1e-5},{"r":9,"c":79,"v":1e-6},{"r":9,"c":82,"v":1e-5},
{"r":10,"c":52,"v":1e-6},{"r":10,"c":55,"v":1e-8},{"r":10,"c":58,"v":1e-4},{"r":10,"c":61,"v":1e-5},{"r":10,"c":64,"v":1e-6},{"r":10,"c":67,"v":1e-5},{"r":10,"c":70,"v":1e-9},{"r":10,"c":73,"v":1e-6},{"r":10,"c":76,"v":1e-5},{"r":10,"c":79,"v":1e-8},{"r":10,"c":82,"v":1e-5}],
"eS":[{"r":0,"c":2,"v":1e-5},{"r":0,"c":3,"v":1e-6},{"r":0,"c":14,"v":1e-5},{"r":0,"c":16,"v":1e-6},{"r":0,"c":17,"v":1e-6},{"r":0,"c":18,"v":1e-6},{"r":0,"c":21,"v":1e-6},{"r":0,"c":23,"v":1e-6},{"r":0,"c":33,"v":1e-5},{"r":0,"c":34,"v":1e-6},
{"r":1,"c":2,"v":3e-6},{"r":1,"c":5,"v":1e-6},{"r":1,"c":11,"v":1e-6},{"r":1,"c":13,"v":1e-6},{"r":1,"c":16,"v":1e-6},{"r":1,"c":17,"v":1e-6},{"r":1,"c":18,"v":1e-6},{"r":1,"c":19,"v":1e-6},{"r":1,"c":20,"v":1e-6},{"r":1,"c":21,"v":1e-6},{"r":1,"c":22,"v":1e-6},{"r":1,"c":23,"v":1e-6},{"r":1,"c":24,"v":1e-6},{"r":1,"c":25,"v":1e-6},{"r":1,"c":30,"v":1e-6},{"r":1,"c":33,"v":1e-6},{"r":1,"c":34,"v":1e-6},{"r":1,"c":40,"v":1e-6},{"r":1,"c":42,"v":1e-6},{"r":1,"c":43,"v":1e-6},{"r":1,"c":45,"v":1e-6},{"r":1,"c":46,"v":1e-6},{"r":1,"c":50,"v":1e-6},
{"r":2,"c":2,"v":1e-4},{"r":2,"c":34,"v":1e-4},{"r":2,"c":45,"v":1e-4},
{"r":3,"c":17,"v":1e-6},{"r":3,"c":32,"v":1e-6},{"r":3,"c":40,"v":1e-5},{"r":3,"c":45,"v":1e-5},
{"r":4,"c":0,"v":1e-5},{"r":4,"c":2,"v":1e-4},{"r":4,"c":4,"v":1e-6},{"r":4,"c":19,"v":1e-6},{"r":4,"c":20,"v":1e-6},{"r":4,"c":21,"v":1e-6},{"r":4,"c":22,"v":1e-4},{"r":4,"c":24,"v":1e-6},{"r":4,"c":26,"v":1e-6},{"r":4,"c":34,"v":1e-5},{"r":4,"c":44,"v":1e-5},{"r":4,"c":45,"v":1e-5},{"r":4,"c":46,"v":1e-6},
{"r":5,"c":0,"v":1e-6},{"r":5,"c":1,"v":1e-6},{"r":5,"c":2,"v":1e-6},{"r":5,"c":3,"v":1e-6},{"r":5,"c":4,"v":1e-6},{"r":5,"c":7,"v":1e-6},{"r":5,"c":11,"v":1e-6},{"r":5,"c":14,"v":1e-6},{"r":5,"c":16,"v":1e-6},{"r":5,"c":17,"v":1e-6},{"r":5,"c":18,"v":1e-6},{"r":5,"c":20,"v":1e-6},{"r":5,"c":21,"v":1e-6},{"r":5,"c":23,"v":1e-6},{"r":5,"c":24,"v":1e-6},{"r":5,"c":25,"v":1e-6},{"r":5,"c":29,"v":1e-6},{"r":5,"c":30,"v":1e-6},{"r":5,"c":32,"v":1e-6},{"r":5,"c":33,"v":1e-6},{"r":5,"c":34,"v":1e-6},{"r":5,"c":37,"v":1e-6},{"r":5,"c":39,"v":1e-6},{"r":5,"c":44,"v":1e-6},{"r":5,"c":45,"v":1e-6},{"r":5,"c":46,"v":1e-6},
{"r":6,"c":2,"v":1e-5},{"r":6,"c":15,"v":1e-3},{"r":6,"c":19,"v":1e-6},{"r":6,"c":20,"v":1e-6},{"r":6,"c":21,"v":1e-6},{"r":6,"c":22,"v":1e-6},{"r":6,"c":30,"v":1e-6},{"r":6,"c":31,"v":1e-6},{"r":6,"c":44,"v":1e-6},{"r":6,"c":45,"v":1e-6},
{"r":7,"c":0,"v":1e-5},{"r":7,"c":1,"v":1e-5},{"r":7,"c":2,"v":1e-5},{"r":7,"c":22,"v":1e-5},{"r":7,"c":34,"v":1e-5},{"r":7,"c":35,"v":1e-6},
{"r":8,"c":15,"v":1e-4},{"r":8,"c":22,"v":1e-5},{"r":8,"c":34,"v":1e-5},
{"r":9,"c":2,"v":1e-6},{"r":9,"c":3,"v":1e-6},{"r":9,"c":6,"v":1e-6},{"r":9,"c":7,"v":1e-6},{"r":9,"c":10,"v":1e-6},{"r":9,"c":11,"v":1e-6},{"r":9,"c":12,"v":1e-6},{"r":9,"c":15,"v":1e-6},{"r":9,"c":17,"v":1e-6},{"r":9,"c":18,"v":1e-6},{"r":9,"c":19,"v":1e-6},{"r":9,"c":20,"v":1e-6},{"r":9,"c":24,"v":1e-6},{"r":9,"c":28,"v":1e-6},{"r":9,"c":32,"v":1e-6},{"r":9,"c":33,"v":1e-6},{"r":9,"c":37,"v":1e-6},{"r":9,"c":40,"v":1e-6},{"r":9,"c":44,"v":1e-6},
{"r":10,"c":15,"v":1e-3},{"r":10,"c":34,"v":1e-5},
{"r":11,"c":4,"v":1e-6},{"r":11,"c":5,"v":1e-6},{"r":11,"c":21,"v":1e-6},{"r":11,"c":22,"v":1e-6},{"r":11,"c":23,"v":1e-6},{"r":11,"c":41,"v":1e-6},{"r":11,"c":49,"v":1e-5},
{"r":12,"c":15,"v":1e-5},{"r":12,"c":34,"v":1e-6},
{"r":0,"c":52,"v":3e-1},{"r":0,"c":55,"v":1e-1},{"r":0,"c":58,"v":3e-1},{"r":0,"c":61,"v":1e-1},{"r":0,"c":64,"v":3e-1},{"r":0,"c":67,"v":1e-1},{"r":0,"c":70,"v":3e-1},{"r":0,"c":73,"v":1e-1},{"r":0,"c":76,"v":3e-1},{"r":0,"c":79,"v":1e-1},{"r":0,"c":82,"v":3e-1},
{"r":1,"c":52,"v":1e-1},{"r":1,"c":55,"v":3e-1},{"r":1,"c":58,"v":1e-1},{"r":1,"c":61,"v":3e-2},{"r":1,"c":64,"v":1e-1},{"r":1,"c":67,"v":3e-1},{"r":1,"c":70,"v":3e-2},{"r":1,"c":73,"v":1e-1},{"r":1,"c":76,"v":3e-1},{"r":1,"c":79,"v":3e-2},{"r":1,"c":82,"v":1e-1},
{"r":2,"c":52,"v":3e-2},{"r":2,"c":55,"v":1e-2},{"r":2,"c":58,"v":1e-1},{"r":2,"c":61,"v":1e-2},{"r":2,"c":64,"v":3e-2},{"r":2,"c":67,"v":1e-2},{"r":2,"c":70,"v":3e-2},{"r":2,"c":73,"v":1e-2},{"r":2,"c":76,"v":3e-2},{"r":2,"c":79,"v":1e-2},{"r":2,"c":82,"v":1e-2},
{"r":3,"c":52,"v":3e-2},{"r":3,"c":55,"v":3e-3},{"r":3,"c":58,"v":1e-9},{"r":3,"c":61,"v":1e-2},{"r":3,"c":64,"v":3e-3},{"r":3,"c":67,"v":1e-2},{"r":3,"c":70,"v":3e-2},{"r":3,"c":73,"v":3e-3},{"r":3,"c":76,"v":1e-2},{"r":3,"c":79,"v":1e-2},{"r":3,"c":82,"v":3e-3},
{"r":4,"c":52,"v":1e-2},{"r":4,"c":55,"v":5e-3},{"r":4,"c":58,"v":1e-2},{"r":4,"c":61,"v":5e-3},{"r":4,"c":64,"v":3e-3},{"r":4,"c":67,"v":5e-3},{"r":4,"c":70,"v":1e-2},{"r":4,"c":73,"v":3e-3},{"r":4,"c":76,"v":5e-3},{"r":4,"c":79,"v":1e-2},{"r":4,"c":82,"v":3e-3},
{"r":5,"c":52,"v":3e-3},{"r":5,"c":55,"v":5e-3},{"r":5,"c":58,"v":3e-3},{"r":5,"c":61,"v":5e-3},{"r":5,"c":64,"v":3e-3},{"r":5,"c":67,"v":3e-3},{"r":5,"c":70,"v":5e-3},{"r":5,"c":73,"v":3e-3},{"r":5,"c":76,"v":3e-3},{"r":5,"c":79,"v":5e-3},{"r":5,"c":82,"v":3e-3},
{"r":6,"c":52,"v":3e-3},{"r":6,"c":55,"v":2e-3},{"r":6,"c":58,"v":3e-3},{"r":6,"c":61,"v":2e-3},{"r":6,"c":64,"v":2e-3},{"r":6,"c":67,"v":3e-3},{"r":6,"c":70,"v":2e-3},{"r":6,"c":73,"v":2e-3},{"r":6,"c":76,"v":3e-3},{"r":6,"c":79,"v":2e-3},{"r":6,"c":82,"v":2e-3},
{"r":7,"c":52,"v":3e-2},{"r":7,"c":55,"v":5e-3},{"r":7,"c":58,"v":3e-3},{"r":7,"c":61,"v":1e-2},{"r":7,"c":64,"v":3e-3},{"r":7,"c":67,"v":1e-2},{"r":7,"c":70,"v":3e-3},{"r":7,"c":73,"v":5e-3},{"r":7,"c":76,"v":1e-2},{"r":7,"c":79,"v":3e-3},{"r":7,"c":82,"v":5e-3},
{"r":8,"c":52,"v":1e-5},{"r":8,"c":55,"v":1e-4},{"r":8,"c":58,"v":1e-3},{"r":8,"c":61,"v":1e-4},{"r":8,"c":64,"v":1e-3},{"r":8,"c":67,"v":1e-4},{"r":8,"c":70,"v":3e-3},{"r":8,"c":73,"v":1e-4},{"r":8,"c":76,"v":1e-3},{"r":8,"c":79,"v":1e-4},{"r":8,"c":82,"v":1e-3},
{"r":9,"c":52,"v":1e-4},{"r":9,"c":55,"v":1e-3},{"r":9,"c":58,"v":1e-4},{"r":9,"c":61,"v":3e-3},{"r":9,"c":64,"v":1e-4},{"r":9,"c":67,"v":1e-3},{"r":9,"c":70,"v":3e-3},{"r":9,"c":73,"v":1e-3},{"r":9,"c":76,"v":1e-4},{"r":9,"c":79,"v":1e-3},{"r":9,"c":82,"v":3e-3},
{"r":10,"c":52,"v":1e-5},{"r":10,"c":55,"v":1e-3},{"r":10,"c":58,"v":3e-3},{"r":10,"c":61,"v":1e-3},{"r":10,"c":64,"v":1e-4},{"r":10,"c":67,"v":1e-3},{"r":10,"c":70,"v":1e-4},{"r":10,"c":73,"v":1e-3},{"r":10,"c":76,"v":1e-3},{"r":10,"c":79,"v":1e-4},{"r":10,"c":82,"v":1e-3},
{"r":11,"c":52,"v":1e-4},{"r":11,"c":55,"v":1e-3},{"r":11,"c":58,"v":1e-4},{"r":11,"c":61,"v":1e-10},{"r":11,"c":64,"v":1e-4},{"r":11,"c":67,"v":1e-10},{"r":11,"c":70,"v":1e-4},{"r":11,"c":73,"v":1e-10},{"r":11,"c":76,"v":1e-5},{"r":11,"c":79,"v":1e-10},{"r":11,"c":82,"v":1e-5},
{"r":12,"c":52,"v":1e-5},{"r":12,"c":55,"v":1e-9},{"r":12,"c":58,"v":1e-6},{"r":12,"c":61,"v":1e-7},{"r":12,"c":64,"v":1e-6},{"r":12,"c":67,"v":1e-6},{"r":12,"c":70,"v":1e-6},{"r":12,"c":73,"v":1e-6},{"r":12,"c":76,"v":1e-6},{"r":12,"c":79,"v":1e-6},{"r":12,"c":82,"v":1e-6}]
},
"concat":[
{"width":262,"height":190,"layer":[
{"data":{"name":"venn"},"transform":[{"filter":"datum.panel!='C'"}],"mark":{"type":"point","filled":true,"size":15376,"opacity":1,"stroke":"#ccc","strokeWidth":1},"encoding":{"x":{"field":"x","type":"quantitative","axis":null,"scale":{"domain":[0,262],"nice":false}},"y":{"field":"y","type":"quantitative","axis":null,"scale":{"domain":[-91,99],"reverse":true,"nice":false}},"color":{"field":"set","type":"nominal","legend":null,"scale":{"domain":["Gut","Oral"],"range":["#7fc3bb","#f3a25e"]}},"fillOpacity":{"field":"set","type":"nominal","legend":null,"scale":{"domain":["Gut","Oral"],"range":[1,0.59]}}}},
{"data":{"values":[{"t":"Gut","x":-42,"y":-77},{"t":"Oral","x":57.5,"y":-77},{"t":"Gut","x":223.5,"y":-77},{"t":"Oral","x":323.5,"y":-77}]},"mark":{"type":"text","fontSize":7.5,"color":"#333"},"encoding":{"x":{"field":"x","type":"quantitative"},"y":{"field":"y","type":"quantitative"},"text":{"field":"t"}}},
{"data":{"values":[{"t":"51","x":-42,"y":1},{"t":"1","x":8,"y":1},{"t":"6","x":57.5,"y":1},{"t":"168","x":223.5,"y":1},{"t":"11","x":273.5,"y":1},{"t":"9","x":323.5,"y":1}]},"mark":{"type":"text","fontSize":14,"color":"#c0302c"},"encoding":{"x":{"field":"x","type":"quantitative"},"y":{"field":"y","type":"quantitative"},"text":{"field":"t"}}},
{"data":{"values":[{"t":"Phylum","x":8,"y":-84.5},{"t":"Genus","x":273.5,"y":-84.5}]},"mark":{"type":"text","fontSize":12.5,"fontWeight":"bold","color":"#9c1a1c"},"encoding":{"x":{"field":"x","type":"quantitative"},"y":{"field":"y","type":"quantitative"},"text":{"field":"t"}}},
{"data":{"values":[{"t":"A","x":-102,"y":-82},{"t":"B","x":162.5,"y":-82}]},"mark":{"type":"text","fontSize":17,"color":"#111"},"encoding":{"x":{"field":"x","type":"quantitative"},"y":{"field":"y","type":"quantitative"},"text":{"field":"t"}}}
]},
{"width":262,"height":190,"layer":[
{"data":{"name":"venn"},"transform":[{"filter":"datum.panel=='C'"}],"mark":{"type":"point","filled":true,"size":15376,"opacity":1,"stroke":"#ccc","strokeWidth":1},"encoding":{"x":{"field":"x","type":"quantitative","axis":null,"scale":{"domain":[0,262],"nice":false}},"y":{"field":"y","type":"quantitative","axis":null,"scale":{"domain":[-91,99],"reverse":true,"nice":false}},"color":{"field":"set","type":"nominal","legend":null,"scale":{"domain":["Gut","Oral"],"range":["#7fc3bb","#f3a25e"]}},"fillOpacity":{"field":"set","type":"nominal","legend":null,"scale":{"domain":["Gut","Oral"],"range":[1,0.59]}}}},
{"data":{"values":[{"t":"Gut","x":93,"y":-77},{"t":"Oral","x":193,"y":-77}]},"mark":{"type":"text","fontSize":7.5,"color":"#333"},"encoding":{"x":{"field":"x","type":"quantitative"},"y":{"field":"y","type":"quantitative"},"text":{"field":"t"}}},
{"data":{"values":[{"t":"146","x":93,"y":1},{"t":"13","x":143,"y":1},{"t":"2","x":193,"y":1}]},"mark":{"type":"text","fontSize":14,"color":"#c0302c"},"encoding":{"x":{"field":"x","type":"quantitative"},"y":{"field":"y","type":"quantitative"},"text":{"field":"t"}}},
{"data":{"values":[{"t":"Species","x":143,"y":-84.5}]},"mark":{"type":"text","fontSize":12.5,"fontWeight":"bold","color":"#9c1a1c"},"encoding":{"x":{"field":"x","type":"quantitative"},"y":{"field":"y","type":"quantitative"},"text":{"field":"t"}}},
{"data":{"values":[{"t":"C","x":32,"y":-82}]},"mark":{"type":"text","fontSize":17,"color":"#111"},"encoding":{"x":{"field":"x","type":"quantitative"},"y":{"field":"y","type":"quantitative"},"text":{"field":"t"}}}
]},
{"width":262,"height":8,"layer":[
{"data":{"name":"groups"},"mark":"rect","encoding":{"x":{"field":"s","type":"quantitative","axis":null,"scale":{"domain":[0,92]}},"x2":{"field":"e"},"color":{"field":"g","type":"nominal","scale":{"domain":["Normal","Mild","Follow-up"],"range":["#1b75bb","#e68a2a","#c43f2a"]},"legend":{"orient":"none","legendX":-83.5,"legendY":261,"title":null,"symbolType":"square","symbolSize":36,"rowPadding":0,"symbolStrokeWidth":0}}}},
{"data":{"values":[{"t":"D"}]},"mark":{"type":"text","fontSize":18,"color":"#111","x":-102.5,"y":-20},"encoding":{"text":{"field":"t"}}},
{"data":{"values":[{"t":"Gut Microbiome"}]},"mark":{"type":"text","fontSize":9,"fontWeight":"bold","color":"#a01c2c","x":133,"y":-7},"encoding":{"text":{"field":"t"}}}
]},
{"width":262,"height":8,"layer":[
{"data":{"name":"groups"},"mark":"rect","encoding":{"x":{"field":"s","type":"quantitative","axis":null,"scale":{"domain":[0,92]}},"x2":{"field":"e"},"color":{"field":"g","type":"nominal","scale":{"domain":["Normal","Mild","Follow-up"],"range":["#1b75bb","#e68a2a","#c43f2a"]},"legend":{"orient":"none","legendX":-88,"legendY":261,"title":null,"symbolType":"square","symbolSize":36,"rowPadding":0,"symbolStrokeWidth":0}}}},
{"data":{"values":[{"t":"E"}]},"mark":{"type":"text","fontSize":18,"color":"#111","x":-110,"y":-20},"encoding":{"text":{"field":"t"}}},
{"data":{"values":[{"t":"Oral Microbiome"}]},"mark":{"type":"text","fontSize":9,"fontWeight":"bold","color":"#a01c2c","x":132,"y":-7},"encoding":{"text":{"field":"t"}}}
]},
{"width":262,"height":9,"layer":[
{"data":{"name":"dP"},"mark":{"type":"rect","width":9.5},"encoding":{"x":{"field":"c","type":"quantitative","axis":null,"scale":{"domain":[-0.5,27.5]}},"y":{"field":"r","type":"ordinal","axis":{"title":"Phylum","labelExpr":"'Proteobacteria'","titleY":4}},"color":{"field":"v","type":"quantitative","scale":{"type":"log","domain":[0.01,1],"range":["#f0f0f0","#111111"]},"legend":{"orient":"none","direction":"horizontal","legendX":-41,"legendY":257,"title":"Relative Abundance","titleOrient":"left","titleFontSize":8,"titleFont":"Liberation Sans","titleColor":"#a01c2c","titlePadding":1,"gradientLength":80,"gradientThickness":6,"encoding":{"labels":{"update":{"align":{"value":"center"}}}},"values":[0.01,0.1,1],"labelExpr":"datum.value==1?'1':'1e\u2212'+abs(round(log(datum.value)/LN10))"}}}},
{"data":{"values":[{}]},"mark":{"type":"rule","color":"#a01c2c","strokeWidth":1.2},"encoding":{"x":{"value":-101.5},"y":{"value":-3},"x2":{"value":-81},"y2":{"value":4}}},
{"data":{"values":[{}]},"mark":{"type":"rule","color":"#a01c2c","strokeWidth":1.2},"encoding":{"x":{"value":-81},"y":{"value":4},"x2":{"value":-101.5},"y2":{"value":10.6}}}
]},
{"width":262,"height":9,"view":{"fill":"#ebebeb"},"layer":[
{"data":{"name":"eP"},"transform":[{"filter":"datum.c<51"}],"mark":{"type":"rect","width":3.2},"encoding":{"x":{"field":"c","type":"quantitative","axis":null,"scale":{"domain":[-0.5,83.5],"nice":false}},"y":{"field":"r","type":"ordinal","axis":{"title":"Phylum","labelExpr":"'Proteobacteria'","titleY":4}},"color":{"field":"v","type":"quantitative","scale":{"type":"log","domain":[0.01,1],"range":["#f0f0f0","#111111"]},"legend":{"orient":"none","direction":"horizontal","legendX":-41.5,"legendY":257,"title":"Relative Abundance","titleOrient":"left","titleFontSize":8,"titleFont":"Liberation Sans","titleColor":"#a01c2c","titlePadding":1,"gradientLength":80,"gradientThickness":6,"encoding":{"labels":{"update":{"align":{"value":"center"}}}},"values":[0.01,0.1,1],"labelExpr":"datum.value==1?'1':'1e\u2212'+abs(round(log(datum.value)/LN10))"}}}},
{"data":{"name":"eP"},"transform":[{"filter":"datum.c>50"}],"mark":{"type":"rect","width":9.5},"encoding":{"x":{"field":"c","type":"quantitative"},"y":{"field":"r","type":"ordinal"},"color":{"field":"v","type":"quantitative"}}},
{"data":{"values":[{}]},"mark":{"type":"rule","color":"#a01c2c","strokeWidth":1.2},"encoding":{"x":{"value":-101.5},"y":{"value":-3},"x2":{"value":-81},"y2":{"value":4}}},
{"data":{"values":[{}]},"mark":{"type":"rule","color":"#a01c2c","strokeWidth":1.2},"encoding":{"x":{"value":-81},"y":{"value":4},"x2":{"value":-101.5},"y2":{"value":10.6}}}
]},
{"width":262,"height":107.5,"layer":[
{"data":{"name":"dG"},"mark":{"type":"rect","width":9.5},"encoding":{"x":{"field":"c","type":"quantitative","axis":null,"scale":{"domain":[-0.5,27.5]}},"y":{"field":"r","type":"ordinal","axis":{"title":"Genus","titleY":54,"labelExpr":"['Neisseria','Haemophilus','Aggregatibacter','Salmonella','Cardiobacterium','Eikenella','Ottowia','Rodentibacter','Aeromonas','Agrobacterium','Sphingopyxis'][datum.value]"}},"color":{"field":"v","type":"quantitative","legend":null,"scale":{"type":"log","domain":[1e-10,1e-8,1e-6,1e-4,1e-2,1]}}}},
{"data":{"values":[{}]},"mark":{"type":"rule","color":"#b8254a","strokeWidth":1},"encoding":{"x":{"value":-104},"y":{"value":8.5},"y2":{"value":101}}},
{"data":{"values":[{}]},"mark":{"type":"rule","color":"#bbb","strokeWidth":0.8},"encoding":{"x":{"value":266},"y":{"value":4},"y2":{"value":28}}},
{"data":{"values":[{}]},"mark":{"type":"rule","color":"#777","strokeWidth":0.8},"encoding":{"x":{"value":263.5},"y":{"value":17},"y2":{"value":102}}}
]},
{"width":262,"height":107.5,"view":{"fill":"#dcee94"},"layer":[
{"data":{"name":"eG"},"transform":[{"filter":"datum.c<51"}],"mark":{"type":"rect","width":3.2},"encoding":{"x":{"field":"c","type":"quantitative","axis":null,"scale":{"domain":[-0.5,83.5],"nice":false}},"y":{"field":"r","type":"ordinal","axis":{"title":"Genus","titleY":54,"labelExpr":"['Neisseria','Haemophilus','Aggregatibacter','Cardiobacterium','Eikenella','Ottowia','Rodentibacter','Salmonella','Aeromonas','Sphingopyxis','Agrobacterium'][datum.value]"}},"color":{"field":"v","type":"quantitative","legend":null,"scale":{"type":"log","domain":[1e-10,1e-8,1e-6,1e-4,1e-2,1]}}}},
{"data":{"name":"eG"},"transform":[{"filter":"datum.c>50"}],"mark":{"type":"rect","width":9.5},"encoding":{"x":{"field":"c","type":"quantitative"},"y":{"field":"r","type":"ordinal"},"color":{"field":"v","type":"quantitative"}}},
{"data":{"values":[{}]},"mark":{"type":"rule","color":"#b8254a","strokeWidth":1},"encoding":{"x":{"value":-104},"y":{"value":8.5},"y2":{"value":101}}},
{"data":{"values":[{}]},"mark":{"type":"rule","color":"#bbb","strokeWidth":0.8},"encoding":{"x":{"value":266},"y":{"value":4},"y2":{"value":24}}},
{"data":{"values":[{}]},"mark":{"type":"rule","color":"#777","strokeWidth":0.8},"encoding":{"x":{"value":263.5},"y":{"value":17},"y2":{"value":102}}}
]},
{"width":262,"height":126,"layer":[
{"data":{"name":"dS"},"mark":{"type":"rect","width":9.5},"encoding":{"x":{"field":"c","type":"quantitative","axis":null,"scale":{"domain":[-0.5,27.5]}},"y":{"field":"r","type":"ordinal","axis":{"title":"Species","titleY":63,"labelExpr":"['Neisseria_subflava','Neisseria_mucosa','Neisseria_elongata','Haemophilus_haemolyticus','Aggregatibacter_segnis','Salmonella_enterica','Aggregatibacter_aphrophilus','Eikenella_corrodens','Cardiobacterium_hominis','Cardiobacterium_valvarum','Eikenella_halliae','Eikenella_longinqua','Eikenella_exigua'][datum.value]"}},"color":{"field":"v","type":"quantitative","scale":{"type":"log","domain":[1e-10,1e-8,1e-6,1e-4,1e-2,1]},"legend":{"orient":"none","direction":"horizontal","legendX":137.5,"legendY":137,"title":null,"gradientLength":112,"gradientThickness":6,"encoding":{"labels":{"update":{"align":{"value":"center"}}}},"values":[1e-10,1e-8,1e-6,1e-4,1e-2,1],"labelExpr":"datum.value==1?'1':'1e\u2212'+abs(round(log(datum.value)/LN10))"}}}},
{"data":{"values":[{}]},"mark":{"type":"rule","color":"#b8254a","strokeWidth":1},"encoding":{"x":{"value":-104},"y":{"value":4},"y2":{"value":122}}},
{"data":{"values":[{}]},"mark":{"type":"rule","color":"#bbb","strokeWidth":0.8},"encoding":{"x":{"value":266},"y":{"value":4},"y2":{"value":31}}},
{"data":{"values":[{}]},"mark":{"type":"rule","color":"#777","strokeWidth":0.8},"encoding":{"x":{"value":263.5},"y":{"value":30},"y2":{"value":122}}}
]},
{"width":262,"height":126,"view":{"fill":"#dcee94"},"layer":[
{"data":{"name":"eS"},"transform":[{"filter":"datum.c<51"}],"mark":{"type":"rect","width":3.2},"encoding":{"x":{"field":"c","type":"quantitative","axis":null,"scale":{"domain":[-0.5,83.5],"nice":false}},"y":{"field":"r","type":"ordinal","axis":{"title":"Species","titleY":63,"labelExpr":"['Neisseria_subflava','Neisseria_elongata','Haemophilus_haemolyticus','Neisseria_mucosa','Aggregatibacter_segnis','Cardiobacterium_hominis','Eikenella_corrodens','Aggregatibacter_aphrophilus','Eikenella_halliae','Cardiobacterium_valvarum','Eikenella_exigua','Salmonella_enterica','Eikenella_longinqua'][datum.value]"}},"color":{"field":"v","type":"quantitative","scale":{"type":"log","domain":[1e-10,1e-8,1e-6,1e-4,1e-2,1]},"legend":{"orient":"none","direction":"horizontal","legendX":138,"legendY":137,"title":null,"gradientLength":112,"gradientThickness":6,"encoding":{"labels":{"update":{"align":{"value":"center"}}}},"values":[1e-10,1e-8,1e-6,1e-4,1e-2,1],"labelExpr":"datum.value==1?'1':'1e\u2212'+abs(round(log(datum.value)/LN10))"}}}},
{"data":{"name":"eS"},"transform":[{"filter":"datum.c>50"}],"mark":{"type":"rect","width":9.5},"encoding":{"x":{"field":"c","type":"quantitative"},"y":{"field":"r","type":"ordinal"},"color":{"field":"v","type":"quantitative"}}},
{"data":{"values":[{}]},"mark":{"type":"rule","color":"#b8254a","strokeWidth":1},"encoding":{"x":{"value":-104},"y":{"value":4},"y2":{"value":122}}},
{"data":{"values":[{}]},"mark":{"type":"rule","color":"#bbb","strokeWidth":0.8},"encoding":{"x":{"value":266},"y":{"value":4},"y2":{"value":31}}},
{"data":{"values":[{}]},"mark":{"type":"rule","color":"#777","strokeWidth":0.8},"encoding":{"x":{"value":263.5},"y":{"value":30},"y2":{"value":122}}}
]}
]}
